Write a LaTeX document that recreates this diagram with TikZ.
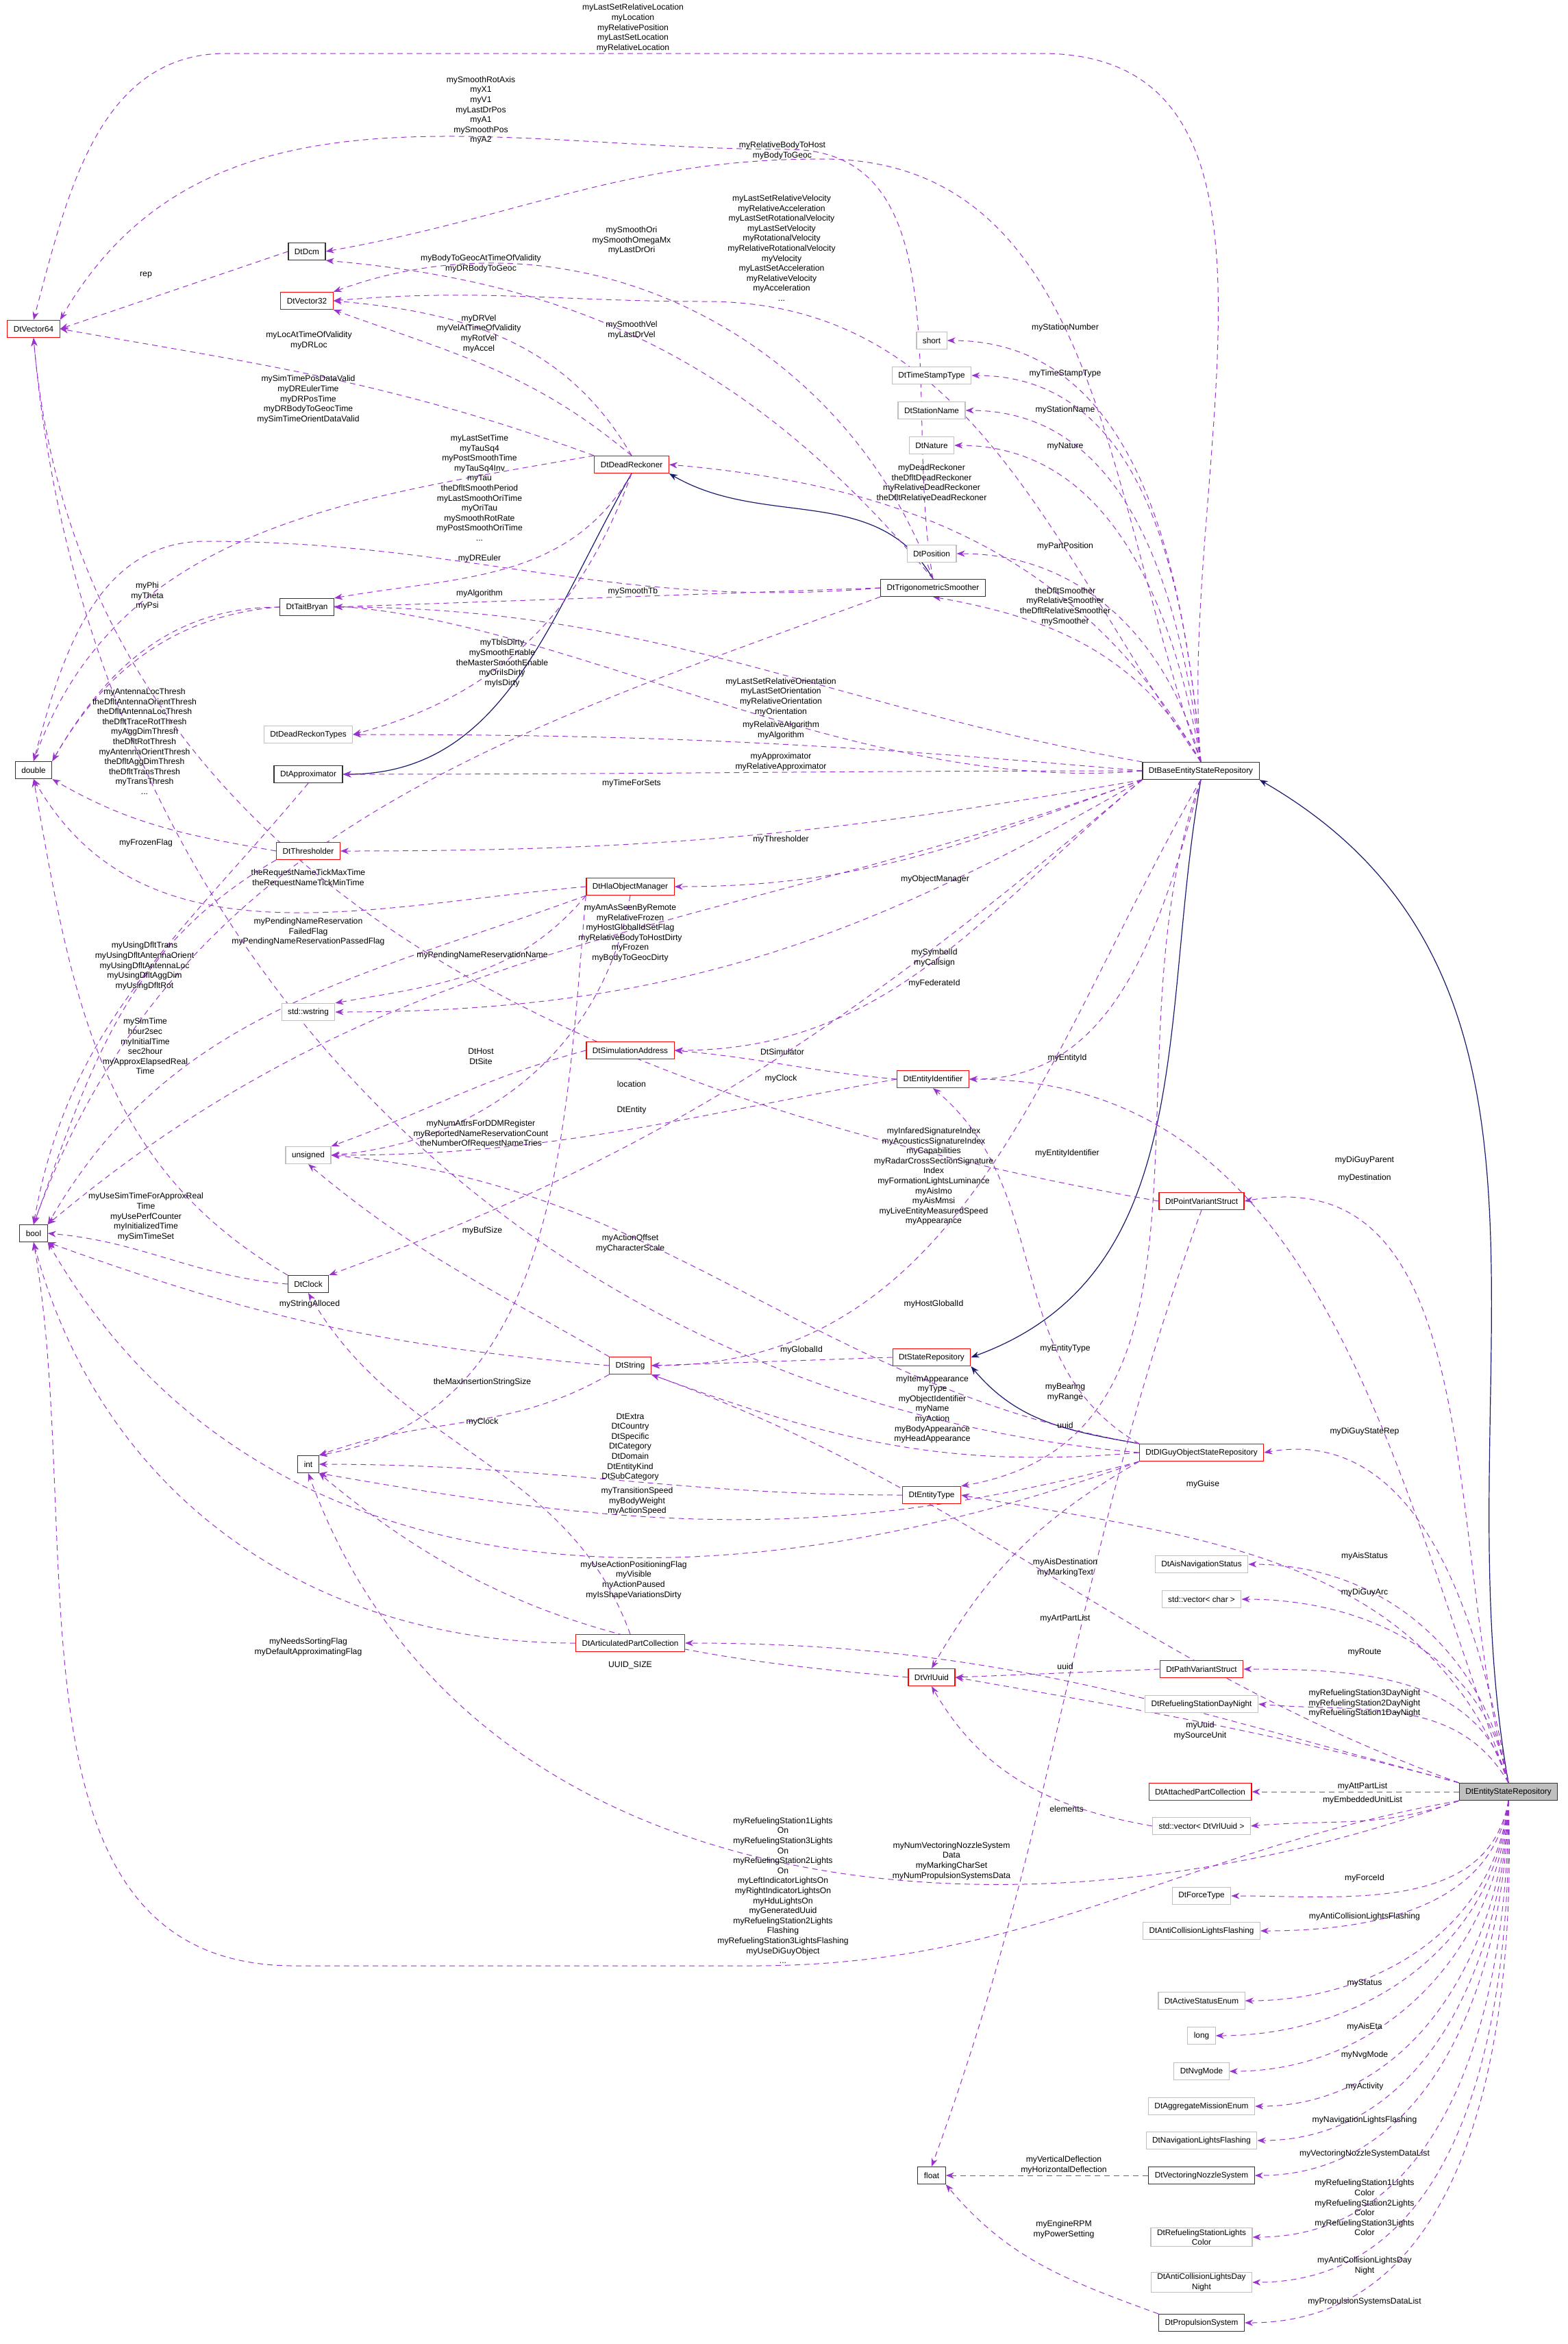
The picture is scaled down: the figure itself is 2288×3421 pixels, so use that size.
\documentclass[tikz,border=0pt]{standalone}
\usepackage{fontspec}
\setmainfont{Liberation Sans}
\usetikzlibrary{arrows.meta,backgrounds}
\definecolor{usecol}{HTML}{9A32CD}
\definecolor{inhcol}{HTML}{191970}
\definecolor{graybox}{HTML}{BFBFBF}
\begin{document}
\begin{tikzpicture}[x=0.5pt,y=-0.5pt,
  box/.style={draw, line width=0.6pt, inner xsep=4.5pt, inner ysep=1pt, minimum height=12.5pt, font=\fontsize{5.9}{7.2}\selectfont, align=center, fill=white},
  red/.style={box, draw=red},
  gry/.style={box, draw=graybox},
  blk/.style={box, draw=black!80},
  cur/.style={box, draw=black!80, fill=graybox},
  lbl/.style={font=\fontsize{6.1}{7.3}\selectfont, align=center, inner sep=0pt},
  u/.style={draw=usecol, line width=0.5pt, dash pattern=on 4pt off 3pt, -{Stealth[length=6pt,width=4.5pt]}},
  inh/.style={draw=inhcol, line width=0.6pt, -{Stealth[length=6pt,width=4.5pt]}}]
\useasboundingbox (0,0) rectangle (2288,3421);
% ---------------- nodes
\node[red] (v64) at (49,480) {DtVector64};
\node[blk] (dcm) at (448,367) {DtDcm};
\node[red] (v32) at (448,439) {DtVector32};
\node[red] (dr) at (922,678) {DtDeadReckoner};
\node[blk] (tb) at (448,886) {DtTaitBryan};
\node[blk] (trig) at (1362,858) {DtTrigonometricSmoother};
\node[gry] (short) at (1360,497) {short};
\node[gry] (tst) at (1360,548) {DtTimeStampType};
\node[gry] (sn) at (1360,599) {DtStationName};
\node[gry] (nat) at (1360,650) {DtNature};
\node[gry] (pos) at (1360,808) {DtPosition};
\node[gry] (drt) at (450,1072) {DtDeadReckonTypes};
\node[blk] (dbl) at (49,1124) {double};
\node[blk] (appr) at (450,1130) {DtApproximator};
\node[blk] (base) at (1753,1125) {DtBaseEntityStateRepository};
\node[red] (thr) at (450,1242) {DtThresholder};
\node[red] (hla) at (920,1294) {DtHlaObjectManager};
\node[gry] (wstr) at (450,1477) {std::wstring};
\node[red] (sim) at (920,1533) {DtSimulationAddress};
\node[red] (eid) at (1362,1575) {DtEntityIdentifier};
\node[gry] (uns) at (450,1686) {unsigned};
\node[red] (pvs) at (1754,1753) {DtPointVariantStruct};
\node[blk] (bool) at (49,1800) {bool};
\node[blk] (clk) at (450,1874) {DtClock};
\node[red] (str) at (920,1993) {DtString};
\node[red] (sr) at (1360,1981) {DtStateRepository};
\node[blk] (int) at (450,2137) {int};
\node[red] (dig) at (1754,2120) {DtDIGuyObjectStateRepository};
\node[red] (et) at (1360,2182) {DtEntityType};
\node[gry] (ais) at (1754,2283) {DtAisNavigationStatus};
\node[gry] (vch) at (1754,2334) {std::vector< char >};
\node[red] (apc) at (920,2398) {DtArticulatedPartCollection};
\node[red] (path) at (1754,2436) {DtPathVariantStruct};
\node[red] (uuid) at (1360,2448) {DtVrlUuid};
\node[gry] (rdn) at (1754,2487) {DtRefuelingStationDayNight};
\node[cur] (esr) at (2202,2615) {DtEntityStateRepository};
\node[red] (att) at (1752,2615) {DtAttachedPartCollection};
\node[gry] (vuu) at (1754,2665) {std::vector< DtVrlUuid >};
\node[gry] (ft) at (1754,2767) {DtForceType};
\node[gry] (acf) at (1754,2818) {DtAntiCollisionLightsFlashing};
\node[gry] (ase) at (1754,2920) {DtActiveStatusEnum};
\node[gry] (long) at (1754,2971) {long};
\node[gry] (nvg) at (1754,3023) {DtNvgMode};
\node[gry] (agg) at (1754,3074) {DtAggregateMissionEnum};
\node[gry] (nlf) at (1754,3124) {DtNavigationLightsFlashing};
\node[blk] (flt) at (1360,3175) {float};
\node[blk] (vns) at (1754,3175) {DtVectoringNozzleSystem};
\node[gry] (rslc) at (1754,3265) {DtRefuelingStationLights\\Color};
\node[gry] (acdn) at (1754,3331) {DtAntiCollisionLightsDay\\Night};
\node[blk] (prop) at (1754,3390) {DtPropulsionSystem};
% ---------------- waypoints
\coordinate (w1) at (1520,78);
\coordinate (w2) at (330,78);
\coordinate (w3) at (1150,218);
\coordinate (w4) at (1200,232);
\coordinate (w5) at (1030,440);
\coordinate (w6) at (300,790);
\coordinate (w7) at (1100,2869);
\coordinate (w8) at (430,2869);
\begin{pgfonlayer}{background}
\fill[white] (0,0) rectangle (2288,3421);
% ---------------- edges (inheritance)
\draw[inh] (dr.south) to[out=-120,in=0] (appr.east);
\draw[inh] (trig.north) to[out=120,in=-30] (dr.south east);
\draw[inh] (base.south) to[out=-100,in=20] (sr.east);
\draw[inh] (dig.north west) to[out=170,in=-50] (sr.south east);
\draw[inh] (esr.north) to[out=100,in=-30] (base.south east);
% ---------------- edges (usage)
\draw[u] (base.north) to[out=95,in=0] (w1) -- (w2) to[out=180,in=75] (v64.north);
\draw[u] (trig.north) to[out=100,in=0] (w3) to[out=180,in=60] (v64.north east);
\draw[u] (base.north) to[out=110,in=0] (w4) to[out=180,in=10] (dcm.east);
\draw[u] (dcm.west) -- (v64.east);
\draw[u] (trig.north) to[out=130,in=-5] (dcm.south east);
\draw[u] (trig.north) to[out=110,in=20] (v32.north east);
\draw[u] (base.north) to[out=125,in=0] (w5) to[out=180,in=5] (v32.east);
\draw[u] (dr.north) to[out=120,in=-5] (v32.east);
\draw[u] (dr.north) to[out=140,in=-20] (v32.south east);
\draw[u] (dr.north west) to[out=160,in=-10] (v64.east);
\draw[u] (dr.north west) to[out=190,in=70] (dbl.north);
\draw[u] (dr.south) to[out=-120,in=10] (tb.north east);
\draw[u] (trig.west) to[out=185,in=0] (w6) to[out=180,in=75] (dbl.north);
\draw[u] (dr.south) to[out=-110,in=15] (drt.east);
\draw[u] (trig.west) -- (tb.east);
\draw[u] (tb.west) to[out=180,in=60] (dbl.north east);
\draw[u] (trig.south west) to[out=200,in=70] (bool.north);
\draw[u] (base.north) to[out=120,in=-10] (trig.south);
\draw[u] (base.north) to[out=120,in=-5] (dr.east);
\draw[u] (base.north) to[out=95,in=0] (short.east);
\draw[u] (base.north) to[out=95,in=0] (tst.east);
\draw[u] (base.north) to[out=97,in=0] (sn.east);
\draw[u] (base.north) to[out=100,in=0] (nat.east);
\draw[u] (base.north) to[out=105,in=0] (pos.east);
\draw[u] (base.north west) to[out=170,in=0] (tb.east);
\draw[u] (base.west) to[out=175,in=0] (drt.east);
\draw[u] (base.west) to[out=180,in=0] (appr.east);
\draw[u] (base.west) to[out=185,in=60] (dbl.north east);
\draw[u] (base.south west) to[out=190,in=0] (thr.east);
\draw[u] (base.south west) to[out=200,in=0] (hla.east);
\draw[u] (thr.west) to[out=170,in=-30] (dbl.south east);
\draw[u] (appr.south) to[out=-130,in=80] (bool.north);
\draw[u] (hla.west) to[out=185,in=-60] (dbl.south);
\draw[u] (hla.south west) to[out=200,in=60] (bool.north east);
\draw[u] (hla.south west) to[out=-130,in=10] (wstr.north east);
\draw[u] (hla.south west) to[out=-95,in=10] (int.north east);
\draw[u] (thr.south west) to[out=-150,in=70] (bool.north);
\draw[u] (base.south west) to[out=200,in=40] (bool.north east);
\draw[u] (base.south west) to[out=210,in=0] (wstr.east);
\draw[u] (base.south west) to[out=220,in=0] (sim.east);
\draw[u] (base.south) to[out=-105,in=0] (eid.east);
\draw[u] (eid.west) to[out=175,in=-5] (sim.east);
\draw[u] (base.south west) to[out=220,in=20] (clk.north east);
\draw[u] (sim.west) to[out=195,in=20] (uns.north east);
\draw[u] (hla.south) to[out=-100,in=5] (uns.east);
\draw[u] (eid.west) to[out=190,in=0] (uns.east);
\draw[u] (pvs.west) to[out=170,in=-85] (v64.south);
\draw[u] (clk.north west) to[out=150,in=-80] (dbl.south);
\draw[u] (clk.west) to[out=175,in=-5] (bool.east);
\draw[u] (dig.north west) to[out=150,in=-40] (eid.south);
\draw[u] (dig.north west) to[out=170,in=-5] (uns.east);
\draw[u] (esr.north) to[out=110,in=0] (eid.east);
\draw[u] (esr.north) to[out=105,in=10] (pvs.east);
\draw[u] (str.north west) to[out=150,in=-40] (uns.south);
\draw[u] (dig.west) to[out=175,in=-85] (v64.south);
\draw[u] (str.west) to[out=175,in=-20] (bool.south east);
\draw[u] (base.south) to[out=-120,in=0] (str.east);
\draw[u] (sr.west) -- (str.east);
\draw[u] (str.south west) to[out=-150,in=20] (int.north east);
\draw[u] (dig.west) to[out=185,in=-20] (str.south east);
\draw[u] (pvs.south) to[out=-110,in=70] (flt.north);
\draw[u] (base.south) to[out=-110,in=10] (et.north east);
\draw[u] (dig.south west) to[out=-150,in=60] (uuid.north);
\draw[u] (et.west) to[out=180,in=0] (int.east);
\draw[u] (esr.north) to[out=100,in=10] (dig.east);
\draw[u] (esr.north) to[out=110,in=-10] (et.east);
\draw[u] (apc.north) to[out=110,in=-60] (clk.south);
\draw[u] (dig.south west) to[out=195,in=-10] (int.south east);
\draw[u] (dig.south west) to[out=200,in=-60] (bool.south east);
\draw[u] (esr.north west) to[out=160,in=-20] (str.south east);
\draw[u] (esr.north) to[out=100,in=0] (ais.east);
\draw[u] (esr.north) to[out=100,in=0] (vch.east);
\draw[u] (esr.north west) to[out=165,in=0] (apc.east);
\draw[u] (apc.west) to[out=180,in=-75] (bool.south);
\draw[u] (uuid.west) to[out=175,in=-40] (int.south east);
\draw[u] (esr.north) to[out=105,in=0] (path.east);
\draw[u] (path.west) -- (uuid.east);
\draw[u] (esr.north) to[out=120,in=-5] (rdn.east);
\draw[u] (esr.north west) to[out=165,in=-10] (uuid.east);
\draw[u] (vuu.west) to[out=170,in=-60] (uuid.south);
\draw[u] (esr.west) -- (att.east);
\draw[u] (esr.south west) to[out=200,in=5] (vuu.east);
\draw[u] (esr.south west) to[out=200,in=-70] (int.south);
\draw[u] (esr.south west) to[out=190,in=0] (w7) -- (w8) to[out=180,in=-80] (bool.south);
\draw[u] (esr.south) to[out=-100,in=0] (ft.east);
\draw[u] (esr.south) to[out=-98,in=0] (acf.east);
\draw[u] (esr.south) to[out=-96,in=0] (ase.east);
\draw[u] (esr.south) to[out=-95,in=0] (long.east);
\draw[u] (esr.south) to[out=-94,in=0] (nvg.east);
\draw[u] (esr.south) to[out=-93,in=0] (agg.east);
\draw[u] (esr.south) to[out=-92,in=0] (nlf.east);
\draw[u] (esr.south) to[out=-91,in=0] (vns.east);
\draw[u] (esr.south) to[out=-90,in=0] (rslc.east);
\draw[u] (esr.south) to[out=-89,in=0] (acdn.east);
\draw[u] (esr.south) to[out=-88,in=0] (prop.east);
\draw[u] (vns.west) -- (flt.east);
\draw[u] (prop.north west) to[out=160,in=-50] (flt.south east);
\end{pgfonlayer}
% ---------------- labels
\node[lbl] (l1) at (924,41) {myLastSetRelativeLocation\\myLocation\\myRelativePosition\\myLastSetLocation\\myRelativeLocation};
\node[lbl] (l2) at (702,161) {mySmoothRotAxis\\myX1\\myV1\\myLastDrPos\\myA1\\mySmoothPos\\myA2};
\node[lbl] (l3) at (1142,220) {myRelativeBodyToHost\\myBodyToGeoc};
\node[lbl] (l4) at (1141,362) {myLastSetRelativeVelocity\\myRelativeAcceleration\\myLastSetRotationalVelocity\\myLastSetVelocity\\myRotationalVelocity\\myRelativeRotationalVelocity\\myVelocity\\myLastSetAcceleration\\myRelativeVelocity\\myAcceleration\\...};
\node[lbl] (l5) at (922,351) {mySmoothOri\\mySmoothOmegaMx\\myLastDrOri};
\node[lbl] (l6) at (702,385) {myBodyToGeocAtTimeOfValidity\\myDRBodyToGeoc};
\node[lbl] (l7) at (699,487) {myDRVel\\myVelAtTimeOfValidity\\myRotVel\\myAccel};
\node[lbl] (l8) at (922,482) {mySmoothVel\\myLastDrVel};
\node[lbl] (l9) at (451,497) {myLocAtTimeOfValidity\\myDRLoc};
\node[lbl] (l10) at (450,583) {mySimTimePosDataValid\\myDREulerTime\\myDRPosTime\\myDRBodyToGeocTime\\mySimTimeOrientDataValid};
\node[lbl] (l11) at (700,712) {myLastSetTime\\myTauSq4\\myPostSmoothTime\\myTauSq4Inv\\myTau\\theDfltSmoothPeriod\\myLastSmoothOriTime\\myOriTau\\mySmoothRotRate\\myPostSmoothOriTime\\...};
\node[lbl] (l12) at (700,815) {myDREuler};
\node[lbl] (l13) at (700,866) {myAlgorithm};
\node[lbl] (l14) at (924,863) {mySmoothTb};
\node[lbl] (l15) at (215,870) {myPhi\\myTheta\\myPsi};
\node[lbl] (l16) at (1360,704) {myDeadReckoner\\theDfltDeadReckoner\\myRelativeDeadReckoner\\theDfltRelativeDeadReckoner};
\node[lbl] (l17a) at (1555,478) {myStationNumber};
\node[lbl] (l17b) at (1555,545) {myTimeStampType};
\node[lbl] (l17c) at (1555,598) {myStationName};
\node[lbl] (l17d) at (1555,652) {myNature};
\node[lbl] (l17e) at (1555,797) {myPartPosition};
\node[lbl] (l17f) at (1555,885) {theDfltSmoother\\myRelativeSmoother\\theDfltRelativeSmoother\\mySmoother};
\node[lbl] (l18) at (733,968) {myTblsDirty\\mySmoothEnable\\theMasterSmoothEnable\\myOriIsDirty\\myIsDirty};
\node[lbl] (l19) at (211,1082) {myAntennaLocThresh\\theDfltAntennaOrientThresh\\theDfltAntennaLocThresh\\theDfltTraceRotThresh\\myAggDimThresh\\theDfltRotThresh\\myAntennaOrientThresh\\theDfltAggDimThresh\\theDfltTransThresh\\myTransThresh\\...};
\node[lbl] (l20) at (213,1230) {myFrozenFlag};
\node[lbl] (l21) at (450,1282) {theRequestNameTickMaxTime\\theRequestNameTickMinTime};
\node[lbl] (l22) at (450,1360) {myPendingNameReservation\\FailedFlag\\myPendingNameReservationPassedFlag};
\node[lbl] (l23) at (704,1394) {myPendingNameReservationName};
\node[lbl] (l24) at (211,1410) {myUsingDfltTrans\\myUsingDfltAntennaOrient\\myUsingDfltAntennaLoc\\myUsingDfltAggDim\\myUsingDfltRot};
\node[lbl] (l25) at (212,1527) {mySimTime\\hour2sec\\myInitialTime\\sec2hour\\myApproxElapsedReal\\Time};
\node[lbl] (l26) at (702,1542) {DtHost\\DtSite};
\node[lbl] (l27) at (702,1655) {myNumAttrsForDDMRegister\\myReportedNameReservationCount\\theNumberOfRequestNameTries};
\node[lbl] (l28) at (213,1776) {myUseSimTimeForApproxReal\\Time\\myUsePerfCounter\\myInitializedTime\\mySimTimeSet};
\node[lbl] (l29) at (704,1796) {myBufSize};
\node[lbl] (l30) at (1140,1017) {myLastSetRelativeOrientation\\myLastSetOrientation\\myRelativeOrientation\\myOrientation};
\node[lbl] (l31) at (1140,1066) {myRelativeAlgorithm\\myAlgorithm};
\node[lbl] (l32) at (1140,1112) {myApproximator\\myRelativeApproximator};
\node[lbl] (l33) at (922,1143) {myTimeForSets};
\node[lbl] (l34) at (1140,1225) {myThresholder};
\node[lbl] (l35) at (1365,1283) {myObjectManager};
\node[lbl] (l36) at (920,1362) {myAmAsSeenByRemote\\myRelativeFrozen\\myHostGlobalIdSetFlag\\myRelativeBodyToHostDirty\\myFrozen\\myBodyToGeocDirty};
\node[lbl] (l37) at (1364,1398) {mySymbolId\\myCallsign};
\node[lbl] (l38) at (1364,1435) {myFederateId};
\node[lbl] (l39) at (1142,1535) {DtSimulator};
\node[lbl] (l40) at (1558,1544) {myEntityId};
\node[lbl] (l41) at (1140,1574) {myClock};
\node[lbl] (l42) at (922,1582) {location};
\node[lbl] (l43) at (922,1620) {DtEntity};
\node[lbl] (l44) at (1363,1717) {myInfaredSignatureIndex\\myAcousticsSignatureIndex\\myCapabilities\\myRadarCrossSectionSignature\\Index\\myFormationLightsLuminance\\myAisImo\\myAisMmsi\\myLiveEntityMeasuredSpeed\\myAppearance};
\node[lbl] (l45) at (1558,1683) {myEntityIdentifier};
\node[lbl] (l46) at (920,1815) {myActionOffset\\myCharacterScale};
\node[lbl] (l47) at (1992,1693) {myDiGuyParent};
\node[lbl] (l48) at (1992,1719) {myDestination};
\node[lbl] (l49) at (1363,1903) {myHostGlobalId};
\node[lbl] (l49b) at (1170,1970) {myGlobalId};
\node[lbl] (l50) at (1555,1968) {myEntityType};
\node[lbl] (l51) at (1361,2057) {myItemAppearance\\myType\\myObjectIdentifier\\myName\\myAction\\myBodyAppearance\\myHeadAppearance};
\node[lbl] (l52) at (1555,2032) {myBearing\\myRange};
\node[lbl] (l53) at (1555,2080) {uuid};
\node[lbl] (l54) at (1992,2089) {myDiGuyStateRep};
\node[lbl] (l55) at (1756,2166) {myGuise};
\node[lbl] (l56) at (1555,2288) {myAisDestination\\myMarkingText};
\node[lbl] (l57) at (1992,2271) {myAisStatus};
\node[lbl] (l58) at (1992,2324) {myDiGuyArc};
\node[lbl] (l59) at (1555,2362) {myArtPartList};
\node[lbl] (l60) at (1992,2412) {myRoute};
\node[lbl] (l61) at (1555,2432) {uuid};
\node[lbl] (l62) at (1992,2486) {myRefuelingStation3DayNight\\myRefuelingStation2DayNight\\myRefuelingStation1DayNight};
\node[lbl] (l63) at (1752,2526) {myUuid\\mySourceUnit};
\node[lbl] (l64) at (1989,2607) {myAttPartList};
\node[lbl] (l65) at (1989,2627) {myEmbeddedUnitList};
\node[lbl] (l66) at (1557,2640) {elements};
\node[lbl] (l67) at (1389,2716) {myNumVectoringNozzleSystem\\Data\\myMarkingCharSet\\myNumPropulsionSystemsData};
\node[lbl] (l68) at (1143,2759) {myRefuelingStation1Lights\\On\\myRefuelingStation3Lights\\On\\myRefuelingStation2Lights\\On\\myLeftIndicatorLightsOn\\myRightIndicatorLightsOn\\myHduLightsOn\\myGeneratedUuid\\myRefuelingStation2Lights\\Flashing\\myRefuelingStation3LightsFlashing\\myUseDiGuyObject\\...};
\node[lbl] (l69) at (930,2191) {myTransitionSpeed\\myBodyWeight\\myActionSpeed};
\node[lbl] (l70) at (925,2306) {myUseActionPositioningFlag\\myVisible\\myActionPaused\\myIsShapeVariationsDirty};
\node[lbl] (l71) at (920,2112) {DtExtra\\DtCountry\\DtSpecific\\DtCategory\\DtDomain\\DtEntityKind\\DtSubCategory};
\node[lbl] (l72) at (704,2017) {theMaxInsertionStringSize};
\node[lbl] (l73) at (704,2075) {myClock};
\node[lbl] (l74) at (452,1903) {myStringAlloced};
\node[lbl] (l75) at (450,2404) {myNeedsSortingFlag\\myDefaultApproximatingFlag};
\node[lbl] (l76) at (920,2430) {UUID\_SIZE};
\node[lbl] (l77) at (213,401) {rep};
\node[lbl] (b1) at (1992,2741) {myForceId};
\node[lbl] (b2) at (1992,2797) {myAntiCollisionLightsFlashing};
\node[lbl] (b3) at (1992,2894) {myStatus};
\node[lbl] (b4) at (1992,2958) {myAisEta};
\node[lbl] (b5) at (1992,2999) {myNvgMode};
\node[lbl] (b6) at (1992,3045) {myActivity};
\node[lbl] (b7) at (1992,3094) {myNavigationLightsFlashing};
\node[lbl] (b8) at (1992,3143) {myVectoringNozzleSystemDataList};
\node[lbl] (b9) at (1992,3222) {myRefuelingStation1Lights\\Color\\myRefuelingStation2Lights\\Color\\myRefuelingStation3Lights\\Color};
\node[lbl] (b10) at (1992,3307) {myAntiCollisionLightsDay\\Night};
\node[lbl] (b11) at (1992,3359) {myPropulsionSystemsDataList};
\node[lbl] (b12) at (1553,3160) {myVerticalDeflection\\myHorizontalDeflection};
\node[lbl] (b13) at (1553,3254) {myEngineRPM\\myPowerSetting};
\end{tikzpicture}
\end{document}
